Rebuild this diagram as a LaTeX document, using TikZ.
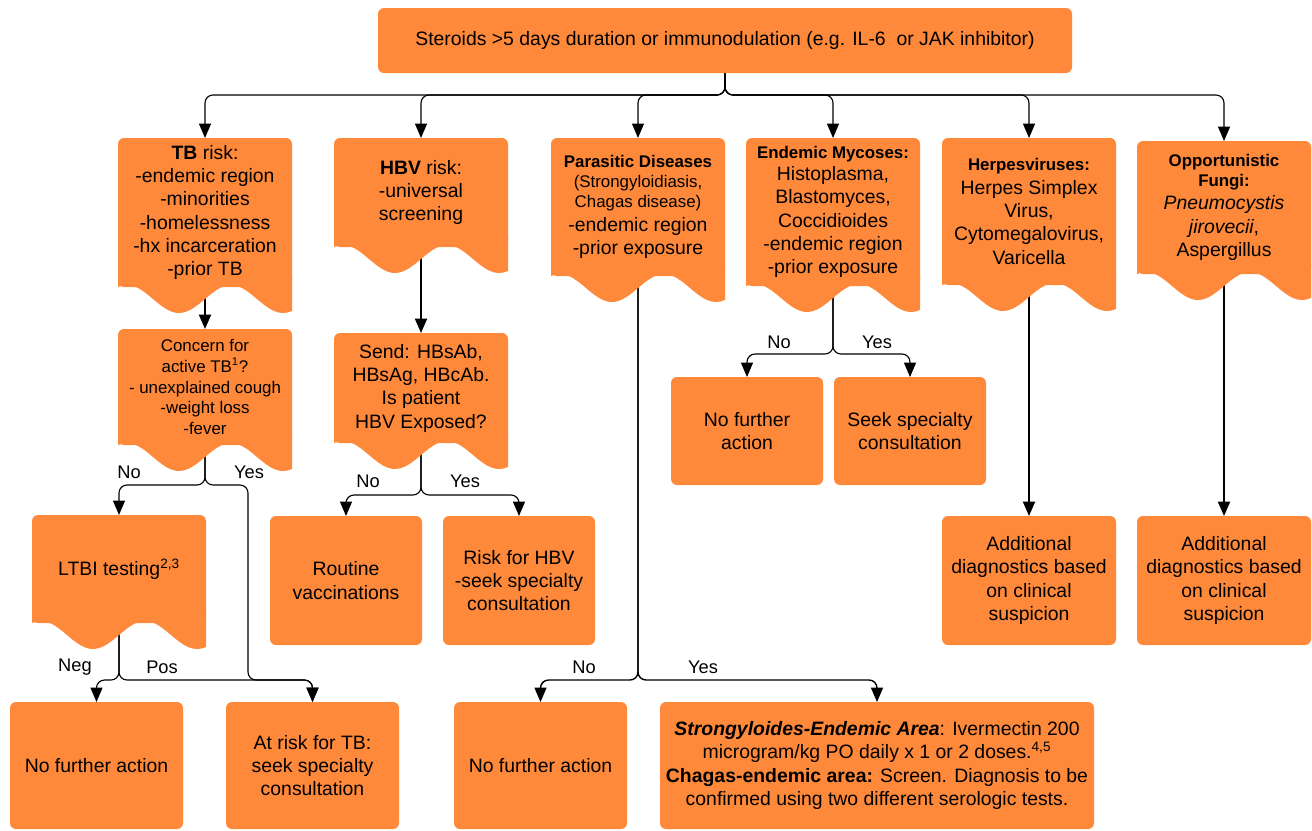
\documentclass[tikz,border=0pt]{standalone}
\usepackage{fontspec}
\setmainfont{Liberation Sans}
\usepackage{tikz}
\usetikzlibrary{arrows.meta}
\definecolor{orng}{RGB}{255,137,58}
\pgfdeclarelayer{back}
\pgfdeclarelayer{shape}
\pgfsetlayers{back,shape,main}
\newcommand{\sm}{\fontsize{12}{14.4}\selectfont}

\tikzset{
  sz/.style 2 args={minimum width=#1*0.025cm, minimum height=#2*0.025cm},
  box/.style={fill=orng, rounded corners=0.15cm, align=center, inner sep=1pt, outer sep=0pt, anchor=north west, font=\fontsize{13.8}{16.6}\selectfont},
  doc/.style={align=center, inner sep=1pt, outer sep=0pt, anchor=north west, font=\fontsize{13.8}{16.6}\selectfont},
  arr/.style={-{Triangle[length=0.36cm,width=0.3cm]}, line width=0.8pt, rounded corners=0.2cm},
  stem/.style={arr, line width=1.4pt},
  lbl/.style={font=\fontsize{13}{15}\selectfont, inner sep=0pt},
}

\begin{document}
\begin{tikzpicture}[x=0.025cm, y=-0.025cm]
    \useasboundingbox (0,0) rectangle (1312,830);
    \begin{pgfonlayer}{back}
        \fill[white] (0,0) rectangle (1312,830);
    \end{pgfonlayer}

    % top box
    \node[box, sz={694}{65}] (top) at (378,8) {Steroids >5 days duration or immunodulation (e.g. IL-6\ \ or JAK inhibitor)};

    % risk groups
    \node[doc, sz={174}{149}] (tb) at (118,138) {\textbf{TB} risk:\\-endemic region\\-minorities\\-homelessness\\-hx incarceration\\-prior TB};
    \node[doc, sz={174}{109}] (hbv) at (334,138) {\textbf{HBV} risk:\\-universal\\screening};
    \node[doc, sz={174}{138}] (par) at (551,138) {{\sm\bfseries Parasitic Diseases}\\[-2.3pt]{\sm (Strongyloidiasis,}\\[-2.3pt]{\sm Chagas disease)}\\-endemic region\\-prior exposure};
    \node[doc, sz={174}{148}] (myc) at (746,138) {{\sm\bfseries Endemic Mycoses:}\\[-1pt]Histoplasma,\\Blastomyces,\\Coccidioides\\-endemic region\\-prior exposure};
    \node[doc, sz={174}{147}] (herp) at (942,138) {{\sm\bfseries Herpesviruses:}\\Herpes Simplex\\Virus,\\Cytomegalovirus,\\Varicella};
    \node[doc, sz={174}{133}] (opp) at (1137,141) {{\sm\bfseries Opportunistic}\\[-2.3pt]{\sm\bfseries Fungi:}\\\textit{Pneumocystis}\\\textit{jirovecii},\\Aspergillus};

    % second row
    \node[doc, sz={174}{116}, font=\fontsize{12}{14.9}\selectfont] (concern) at (118,329) {Concern for\\active TB\textsuperscript{1}?\\- unexplained cough\\-weight loss\\-fever};
    \node[doc, sz={174}{110}] (send) at (334,333) {Send: HBsAb,\\HBsAg, HBcAb.\\Is patient\\HBV Exposed?};
    \node[box, sz={152}{108}] (mycno) at (671,377) {No further\\action};
    \node[box, sz={152}{108}] (mycyes) at (834,377) {Seek specialty\\consultation};

    % third row
    \node[doc, sz={174}{108}] (ltbi) at (32,515) {LTBI testing\textsuperscript{2,3}};
    \node[box, sz={152}{129}] (routine) at (270,516) {Routine\\vaccinations};
    \node[box, sz={152}{129}] (hbvrisk) at (443,516) {Risk for HBV\\-seek specialty\\consultation};
    \node[box, sz={174}{129}] (herpdx) at (942,516) {Additional\\diagnostics based\\on clinical\\suspicion};
    \node[box, sz={174}{129}] (oppdx) at (1137,516) {Additional\\diagnostics based\\on clinical\\suspicion};

    % bottom row
    \node[box, sz={173}{127}] (tbno) at (10,702) {No further action};
    \node[box, sz={173}{127}] (atrisk) at (226,702) {At risk for TB:\\seek specialty\\consultation};
    \node[box, sz={173}{127}] (parno) at (454,702) {No further action};
    \node[box, sz={434}{127}] (paryes) at (660,702) {\textbf{\textit{Strongyloides-Endemic Area}}: Ivermectin 200\\microgram/kg PO daily x 1 or 2 doses.\textsuperscript{4,5}\\\textbf{Chagas-endemic area:} Screen. Diagnosis to be\\confirmed using two different serologic tests.};

    % document shapes with wavy bottom
    \begin{pgfonlayer}{shape}
        \foreach \n in {tb,hbv,par,myc,herp,opp,concern,send,ltbi} {
            \fill[orng, rounded corners=0.15cm] (\n.north west) rectangle (\n.south east);
            \fill[orng, shift={(\n.south west)}] (0,-10) -- plot[domain=0:174, samples=40] (\x, {12+14*cos((\x-61)*3.4615)}) -- (174,-10) -- cycle;
        }
    \end{pgfonlayer}

    % connectors
    \begin{pgfonlayer}{back}
        \foreach \n in {tb,hbv,par,myc,herp,opp}
            \draw[arr] (top.south) -- ++(0,22) -| (\n);

        \draw[stem] (tb.center) -- (concern);
        \draw[stem] (hbv.center) -- (send);
        \draw[stem] (herp.center) -- (herpdx);
        \draw[stem] (opp.center) -- (oppdx);

        \draw[arr] (concern.center) -- ++(0,98) -| (ltbi);
        \draw[arr] (concern.center) -- ++(0,98) -- ++(43,0) -- ++(0,195) -| (atrisk);
        \draw[arr] (ltbi.center) -- ++(0,111) -| (tbno);
        \draw[arr] (ltbi.center) -- ++(0,111) -| (atrisk);
        \draw[arr] (send.center) -- ++(0,107) -| (routine);
        \draw[arr] (send.center) -- ++(0,107) -| (hbvrisk);
        \draw[arr] (myc.center) -- ++(0,142) -| (mycno);
        \draw[arr] (myc.center) -- ++(0,142) -| (mycyes);
        \draw[arr, line width=1pt] (par.center) -- ++(0,473) -| (parno);
        \draw[arr, line width=1pt] (par.center) -- ++(0,473) -| (paryes);
    \end{pgfonlayer}

    % branch labels
    \node[lbl] (cno) at (129,472) {No};
    \node[lbl] (cyes) at (249,472) {Yes};
    \node[lbl] (sno) at (368,481) {No};
    \node[lbl] (syes) at (465,481) {Yes};
    \node[lbl] (lneg) at (75,667) {Neg};
    \node[lbl] (lpos) at (162,667) {Pos};
    \node[lbl] (pno) at (584,667) {No};
    \node[lbl] (pyes) at (703,667) {Yes};
    \node[lbl] (mno) at (779,342) {No};
    \node[lbl] (myes) at (877,342) {Yes};
\end{tikzpicture}
\end{document}
